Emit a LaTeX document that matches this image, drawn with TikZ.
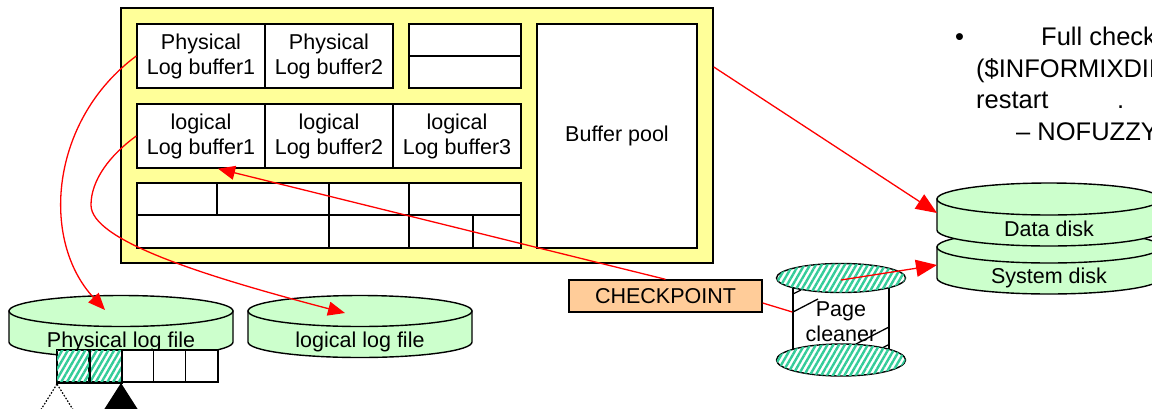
\documentclass[tikz,border=0pt]{standalone}
\usepackage{fontspec}
\setmainfont{Liberation Sans}
\usetikzlibrary{arrows.meta,shapes.geometric,patterns.meta}

\definecolor{membg}{HTML}{FFFF99}
\definecolor{diskgreen}{HTML}{CCFFCC}
\definecolor{chkfill}{HTML}{FFCC99}
\definecolor{stripe}{HTML}{33CC99}

\tikzset{
  lbl/.style={font=\fontsize{21.5}{25}\selectfont, align=center},
  bufbox/.style={draw, fill=white, line width=1.4pt, inner sep=0pt, lbl},
  flow/.style={draw=red, line width=1.3pt},
  tipS/.style={-{Triangle[length=17pt,width=14pt]}},
  tipL/.style={-{Triangle[length=21pt,width=17pt]}},
  hatched/.style={pattern={Lines[angle=60,distance=5pt,line width=2.4pt]}, pattern color=stripe},
  disk/.style={fill=diskgreen, draw, line width=1.4pt},
  note/.style={font=\fontsize{25.5}{30}\selectfont, anchor=base west, inner sep=0pt},
}

% platter: centre x, top-ellipse centre y, x radius, y radius, body height
\newcommand{\platter}[5]{%
  \begin{scope}[shift={(#1,#2)}]
    \filldraw[disk] (-#3,0) -- (-#3,#5)
      arc[start angle=180, end angle=0, x radius=#3, y radius=#4]
      -- (#3,0) -- cycle;
    \filldraw[disk] (0,0) ellipse[x radius=#3, y radius=#4];
  \end{scope}}

\begin{document}
\begin{tikzpicture}[x=1pt, y=-1pt]
\useasboundingbox (0,0) rectangle (1152,408);

% shared memory
\node[draw, fill=membg, line width=1.6pt, minimum width=592pt, minimum height=255pt, inner sep=0pt] (shm) at (417,135.5) {};

% physical log buffers
\node[bufbox, minimum width=128pt, minimum height=64pt] (pb1) at (201,56) {Physical\\Log buffer1};
\node[bufbox, minimum width=128pt, minimum height=64pt] (pb2) at (329,56) {Physical\\Log buffer2};
\node[bufbox, minimum width=112pt, minimum height=32pt] (sa) at (465,40) {};
\node[bufbox, minimum width=112pt, minimum height=32pt] (sb) at (465,72) {};

% logical log buffers
\node[bufbox, minimum width=128pt, minimum height=64pt] (lb1) at (201,136) {logical\\Log buffer1};
\node[bufbox, minimum width=128pt, minimum height=64pt] (lb2) at (329,136) {logical\\Log buffer2};
\node[bufbox, minimum width=128pt, minimum height=64pt] (lb3) at (457,136) {logical\\Log buffer3};

% other shared-memory structures
\node[bufbox, minimum width=80pt,  minimum height=32pt] (g1) at (177,199) {};
\node[bufbox, minimum width=112pt, minimum height=32pt] (g2) at (273,199) {};
\node[bufbox, minimum width=80pt,  minimum height=32pt] (g3) at (369,199) {};
\node[bufbox, minimum width=112pt, minimum height=32pt] (g4) at (465,199) {};
\node[bufbox, minimum width=192pt, minimum height=33pt] (g5) at (233,231.5) {};
\node[bufbox, minimum width=80pt,  minimum height=33pt] (g6) at (369,231.5) {};
\node[bufbox, minimum width=64pt,  minimum height=33pt] (g7) at (441,231.5) {};
\node[bufbox, minimum width=48pt,  minimum height=33pt] (g8) at (497,231.5) {};

% buffer pool
\node[bufbox, minimum width=160pt, minimum height=224pt] (bp) at (617,136) {Buffer pool};

% log files on disk
\platter{121}{311}{112}{15.5}{31}
\node[lbl] (physfile) at (121,342) {Physical log file};
\platter{360}{311}{112}{15.5}{31}
\node[lbl] (logfile) at (360,342) {logical log file};

% physical log pages
\foreach \i/\x in {1/73,2/105.2,3/137.4,4/169.6,5/201.8}
  \node[draw, fill=white, line width=1.4pt, minimum size=32.2pt, inner sep=0pt] (pp\i) at (\x,366) {};
\path[hatched] (pp1.south west) rectangle (pp1.north east);
\path[hatched] (pp2.south west) rectangle (pp2.north east);
\draw[line width=1.4pt] (pp1.south west) rectangle (pp2.north east);
\draw[line width=1.4pt] (pp1.north east) -- (pp1.south east);

% page pointers
\draw[dash pattern=on 1.6pt off 1.6pt, line width=1.2pt] (57,384) -- (39.5,412) -- (74.5,412) -- cycle;
\fill (121,383) -- (102.5,412) -- (139.5,412) -- cycle;

% data and system disks
\platter{1049}{247}{112}{16}{31}
\node[lbl] (sysdisk) at (1049,278) {System disk};
\platter{1049}{199}{112}{16}{31}
\node[lbl] (datadisk) at (1049,229) {Data disk};

% page cleaner
\node[draw, fill=white, line width=1.4pt, minimum width=96pt, minimum height=82pt, inner sep=0pt] (pcbody) at (841,319) {};
\begin{scope}
  \clip (793,278) rectangle (889,360);
  \draw[line width=1.3pt] (793,294) -- (801,290);
  \draw[line width=1.3pt] (793,312) -- (818,299);
  \draw[line width=1.3pt] (856,344) -- (889,327);
  \draw[line width=1.3pt] (882,348) -- (889,344.5);
\end{scope}
\node[ellipse, draw, fill=white, postaction={hatched}, line width=1.4pt, minimum width=129pt, minimum height=32pt, inner sep=0pt] (pcbot) at (841,360) {};
\node[ellipse, draw, fill=white, postaction={hatched}, line width=1.4pt, minimum width=129pt, minimum height=29pt, inner sep=0pt] (pctop) at (841,278) {};
\node[lbl, inner sep=0pt] (pclabel) at (841,322) {Page\\cleaner};

% checkpoint
\node[draw, fill=chkfill, line width=1.4pt, minimum width=193pt, minimum height=32pt, inner sep=0pt, lbl] (chk) at (665.5,296) {CHECKPOINT};

% connector end points
\coordinate (physin) at (105,310);
\coordinate (login) at (345,313);
\coordinate (datain) at (937,213);
\coordinate (sysin) at (937,265);

% flows
\draw[flow, tipS] (pb1.west) .. controls (50,120) and (40,240) .. (physin);
\draw[flow, tipS] (lb1.west) .. controls (110,155) and (91,180) .. (91,205)
                   .. controls (91,240) and (200,275) .. (login);
\draw[flow, tipS] (chk.north) -- ([xshift=17pt]lb1.south);
\draw[flow] ([yshift=-7pt]chk.east) -- ([yshift=7pt]pcbody.west);
\draw[flow, tipL] ([yshift=68.5pt]shm.east) -- (datain);
\draw[flow, tipL] ([yshift=-2pt]pctop.center) -- (sysin);

% notes
\node[note] (n0) at (955,45) {•};
\node[note] (n1) at (1041,45) {Full check};
\node[note] (n2) at (976,77) {(\$INFORMIXDIR};
\node[note] (n3) at (976,108) {restart};
\node[note] (n4) at (1117,108) {.};
\node[note] (n5) at (1016,140) {– NOFUZZY};
\end{tikzpicture}
\end{document}
